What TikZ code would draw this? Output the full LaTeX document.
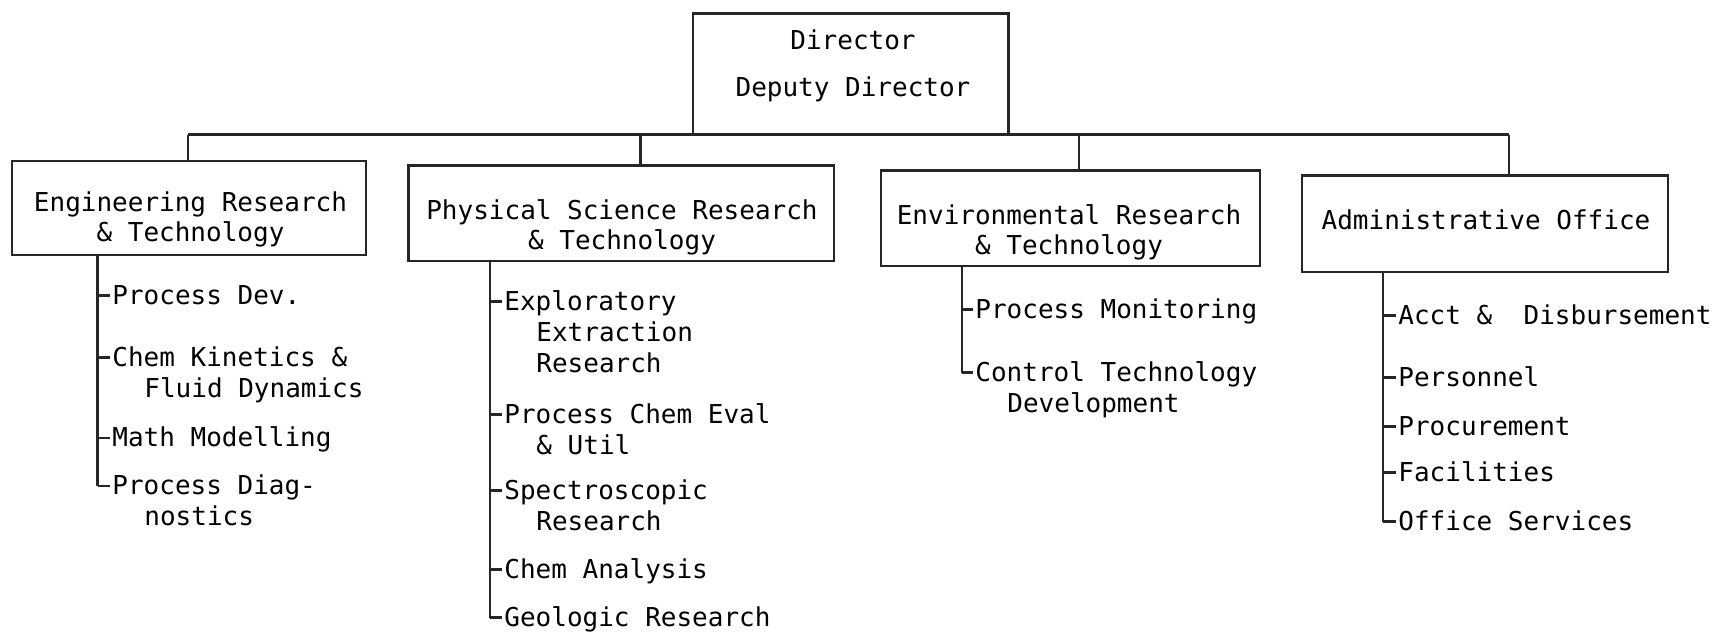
\documentclass[tikz,border=0pt]{standalone}
\usepackage{fontspec}
\setmainfont{DejaVu Sans Mono}
\usetikzlibrary{calc}
\newcommand\msp{\spaceskip=0.602em\xspaceskip=0.602em\relax}
\begin{document}
\begin{tikzpicture}[x=0.5pt, y=-0.5pt,
  line/.style={line width=1.2pt, draw=black!85},
  box/.style={draw=black!85, line width=1.2pt, inner sep=0pt},
  boxtext/.style={font=\fontsize{13}{15}\selectfont, align=center, text width=240pt, anchor=base, inner sep=0pt},
  dirtext/.style={font=\fontsize{13}{23.7}\selectfont, align=center, text width=240pt, anchor=base, inner sep=0pt},
  item/.style={font=\fontsize{13}{15.6}\selectfont, align=left, text width=180pt, anchor=base west, inner sep=0pt}
]
\useasboundingbox (0,0) rectangle (1716,633);

% --- boxes ---
\node[box, minimum width=157.75pt, minimum height=60.5pt] (dir) at (850.75,74) {};
\node[dirtext] (dirt) at (853,49.3) {\msp Director\\Deputy Director};

\node[box, minimum width=177pt, minimum height=47pt] (eng) at (189,208) {};
\node[boxtext] (engt) at (190.5,211.5) {\msp Engineering Research\\\& Technology};

\node[box, minimum width=212.75pt, minimum height=47.75pt] (phys) at (621.25,213.25) {};
\node[boxtext] (physt) at (622,219.5) {\msp Physical Science Research\\\& Technology};

\node[box, minimum width=189.5pt, minimum height=47.75pt] (env) at (1070.5,218.25) {};
\node[boxtext] (envt) at (1069,224.3) {\msp Environmental Research\\\& Technology};

\node[box, minimum width=183pt, minimum height=48.25pt] (adm) at (1485,223.75) {};
\node[boxtext] (admt) at (1486,229.5) {\msp Administrative Office};

% --- bar and drops ---
\coordinate (b1) at (188,134.5);
\coordinate (b2) at (640.5,134.5);
\coordinate (b3) at (1079,134.5);
\coordinate (b4) at (1509,134.5);
\draw[line] (b1) -- (b4);
\draw[line] (b1) -- (b1 |- eng.north);
\draw[line] (b2) -- (b2 |- phys.north);
\draw[line] (b3) -- (b3 |- env.north);
\draw[line] (b4) -- (b4 |- adm.north);

% --- list items ---
\node[item] (e1) at (112,304) {\msp Process Dev.};
\node[item] (e2) at (112,366) {\msp Chem Kinetics \&\\\hspace*{16pt}Fluid Dynamics};
\node[item] (e3) at (112,446.5) {\msp Math Modelling};
\node[item] (e4) at (112,494.5) {\msp Process Diag-\\\hspace*{16pt}nostics};

\node[item] (p1) at (504,310) {\msp Exploratory\\\hspace*{16pt}Extraction\\\hspace*{16pt}Research};
\node[item] (p2) at (504,423) {\msp Process Chem Eval\\\hspace*{16pt}\& Util};
\node[item] (p3) at (504,499) {\msp Spectroscopic\\\hspace*{16pt}Research};
\node[item] (p4) at (504,578) {\msp Chem Analysis};
\node[item] (p5) at (504,626) {\msp Geologic Research};

\node[item] (v1) at (975,318) {\msp Process Monitoring};
\node[item] (v2) at (975,381) {\msp Control Technology\\\hspace*{16pt}Development};

\node[item] (a1) at (1398,324) {\msp Acct \&\ \ Disbursement};
\node[item] (a2) at (1398,386) {\msp Personnel};
\node[item] (a3) at (1398,435) {\msp Procurement};
\node[item] (a4) at (1398,481) {\msp Facilities};
\node[item] (a5) at (1398,530) {\msp Office Services};

% --- tree lines ---
\coordinate (ev) at (97.5,0);
\coordinate (pv) at (490,0);
\coordinate (vv) at (962,0);
\coordinate (av) at (1383,0);

\foreach \n in {e1,e2,e3,e4,p1,p2,p3,p4,p5,v1,v2,a1,a2,a3,a4,a5}
  \path ([shift={(-1pt,4.25pt)}]\n.base west) coordinate (t\n);

\draw[line] (eng.south -| ev) -- (te4 -| ev);
\draw[line] (phys.south -| pv) -- (tp5 -| pv);
\draw[line] (env.south -| vv) -- (tv2 -| vv);
\draw[line] (adm.south -| av) -- (ta5 -| av);

\foreach \n in {e1,e2,e3,e4} \draw[line] (t\n -| ev) -- (t\n);
\foreach \n in {p1,p2,p3,p4,p5} \draw[line] (t\n -| pv) -- (t\n);
\foreach \n in {v1,v2} \draw[line] (t\n -| vv) -- (t\n);
\foreach \n in {a1,a2,a3,a4,a5} \draw[line] (t\n -| av) -- (t\n);
\end{tikzpicture}
\end{document}
